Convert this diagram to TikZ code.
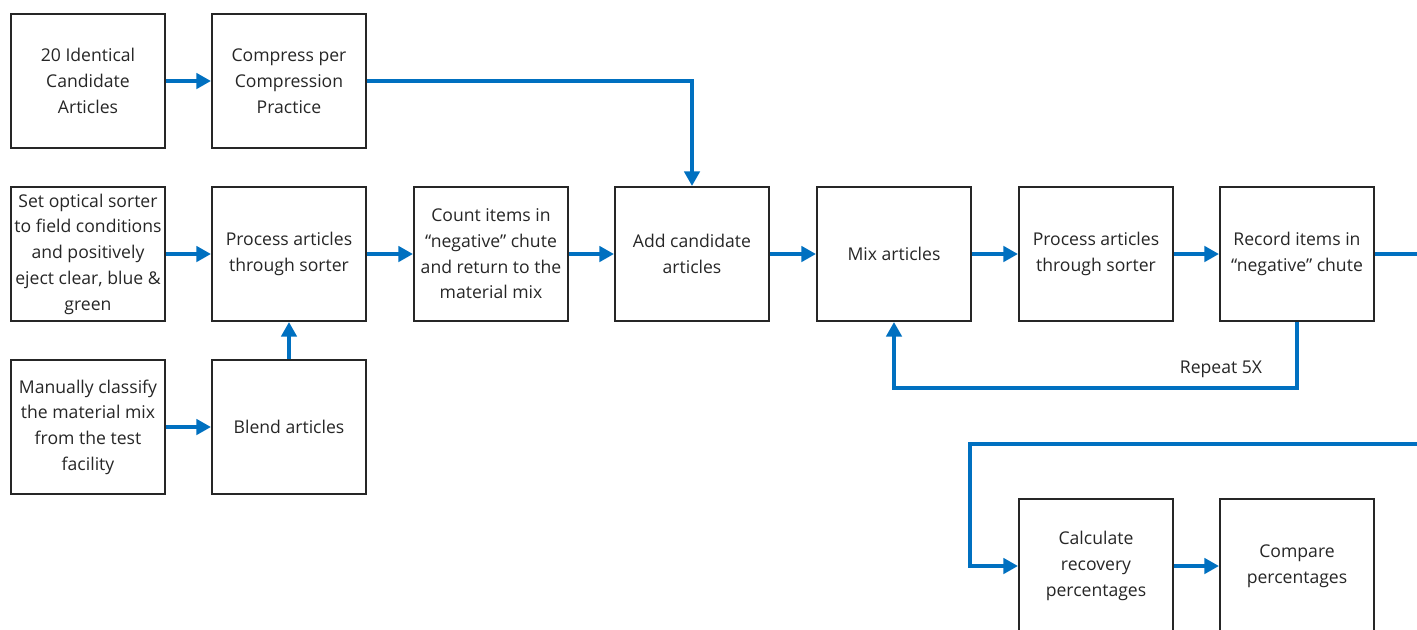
\documentclass[tikz,border=0pt]{standalone}
\usepackage{fontspec}
\setmainfont{Open Sans}
\usetikzlibrary{arrows.meta}
\definecolor{flowblue}{RGB}{0,112,192}
\definecolor{boxgray}{RGB}{38,38,38}
\begin{document}
\begin{tikzpicture}[x=0.75pt, y=-0.75pt,
  box/.style={draw=boxgray, line width=1.5pt, minimum width=115.5pt, minimum height=100.5pt, inner sep=1pt, align=center, text=boxgray, font=\fontsize{13.2}{19.3}\selectfont},
  flow/.style={draw=flowblue, line width=3.7pt, -{Triangle[length=11pt,width=11.5pt]}}]
\useasboundingbox (0,0) rectangle (1417,629);
\clip (0,0) rectangle (1417,629);
\node[box] (cand) at (88,81) {20 Identical\\Candidate\\Articles};
\node[box] (comp) at (289,81) {Compress per\\Compression\\Practice};
\node[box] (set) at (88,254) {Set optical sorter\\to field conditions\\and positively\\eject clear, blue \&\\green};
\node[box] (proc) at (289,254) {Process articles\\through sorter};
\node[box] (count) at (491,254) {Count items in\\“negative” chute\\and return to the\\material mix};
\node[box] (add) at (692,254) {Add candidate\\articles};
\node[box] (mix) at (894,254) {Mix articles};
\node[box] (proctwo) at (1096,254) {Process articles\\through sorter};
\node[box] (record) at (1297,254) {Record items in\\“negative” chute};
\node[box] (manual) at (88,427) {Manually classify\\the material mix\\from the test\\facility};
\node[box] (blend) at (289,427) {Blend articles};
\node[box] (calc) at (1096,566) {Calculate\\recovery\\percentages};
\node[box] (compare) at (1297,566) {Compare\\percentages};
\node[text=boxgray, font=\fontsize{13.2}{19.3}\selectfont] (rep) at (1221,369) {Repeat 5X};
\coordinate (wrap) at (1440,444);
\coordinate (drop) at (970,566);
\draw[flow] (cand) -- (comp);
\draw[flow] (comp.east) -| (add.north);
\draw[flow] (set) -- (proc);
\draw[flow] (manual) -- (blend);
\draw[flow] (blend) -- (proc);
\draw[flow] (proc) -- (count);
\draw[flow] (count) -- (add);
\draw[flow] (add) -- (mix);
\draw[flow] (mix) -- (proctwo);
\draw[flow] (proctwo) -- (record);
\draw[flow] (record.south) -- ++(0,66) -| (mix.south);
\draw[flow] (record.east) -| (wrap) -| (drop) -- (calc.west);
\draw[flow] (calc) -- (compare);
\end{tikzpicture}
\end{document}
